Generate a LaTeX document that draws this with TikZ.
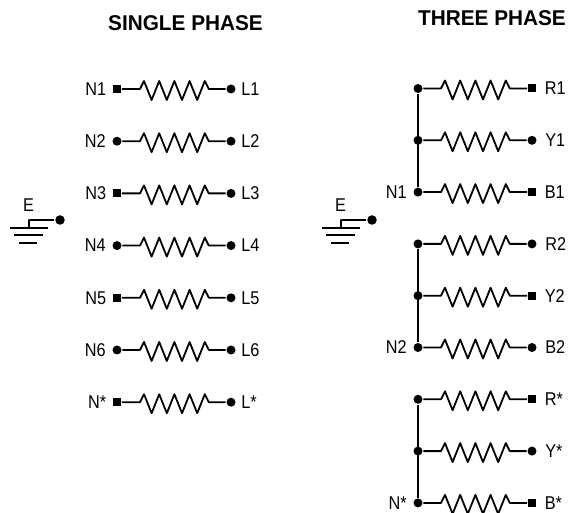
\documentclass[tikz,border=0pt]{standalone}
\usepackage{fontspec}
\setmainfont{Liberation Sans}
\newfontfamily\cadfont[FakeStretch=0.88]{Liberation Sans}
\newfontfamily\titlefont[FakeStretch=0.97]{Liberation Sans}
\usetikzlibrary{positioning}
\begin{document}
\begin{tikzpicture}[x=1pt, y=-1pt, line width=1.8pt, line join=round,
	sq/.style={fill, rectangle, minimum size=8pt, inner sep=0},
	dot/.style={fill, circle, minimum size=9pt, inner sep=0},
	lab/.style={font=\cadfont\fontsize{18.5}{18.5}\selectfont, inner sep=0},
	title/.style={font=\titlefont\bfseries\fontsize{21.4}{21.4}\selectfont, inner sep=0},
	res/.style={to path={-- ++(23,0) -- ++(4,-8)
		-- ++(7.6,19) -- ++(7.6,-19) -- ++(7.6,19) -- ++(7.6,-19)
		-- ++(7.6,19) -- ++(7.6,-19) -- ++(7.6,19) -- ++(7.6,-19)
		-- ++(4,8) -- (\tikztotarget)}}]
\useasboundingbox (0,0) rectangle (571,513);
\node (single)[title] at (185.5,23.5) {SINGLE PHASE};
\node (three)[title] at (492,18) {THREE PHASE};

% single phase
\foreach \i/\nn/\s in {1/1/sq,2/2/dot,3/3/sq,4/4/dot,5/5/sq,6/6/dot,7/*/sq}
{
	\node (n\i)[\s] at (117,{89+52.2*(\i-1)}) {};
	\node (l\i)[dot] at (231,{89+52.2*(\i-1)}) {};
	\node (nt\i)[lab, left=5pt of n\i] {N\nn};
	\node (lt\i)[lab, right=4pt of l\i] {L\nn};
	\draw (n\i) to[res] (l\i);
}

% three phase
\foreach \i/\p/\nn/\s in {1/R/1/sq,2/Y/1/dot,3/B/1/sq,4/R/2/dot,5/Y/2/sq,6/B/2/dot,7/R/*/sq,8/Y/*/dot,9/B/*/sq}
{
	\node (b\i)[dot] at (418,{88.5+51.8*(\i-1)}) {};
	\node (p\i)[\s] at (532,{88.5+51.8*(\i-1)}) {};
	\node (pt\i)[lab, right=7pt of p\i] {\p\nn};
	\draw (b\i) to[res] (p\i);
}
\draw (b1)--(b3); \draw (b4)--(b6); \draw (b7)--(b9);
\foreach \i/\nn in {3/1,6/2,9/*}
{
	\node (bt\i)[lab, left=5pt of b\i] {N\nn};
}

% earth
\foreach \gx/\gn in {0/ga,312/gb}
{
	\node (\gn)[dot, minimum size=9.5pt] at ({60+\gx},220) {};
	\node (\gn t)[lab] at ({28.5+\gx},205.5) {E};
	\coordinate (\gn c) at ({29+\gx},228);
	\draw (\gn) -| (\gn c);
	\draw ({10+\gx},228) -- ({48+\gx},228);
	\draw ({14+\gx},235) -- ({43+\gx},235);
	\draw ({19+\gx},243) -- ({37+\gx},243);
}
\end{tikzpicture}
\end{document}
